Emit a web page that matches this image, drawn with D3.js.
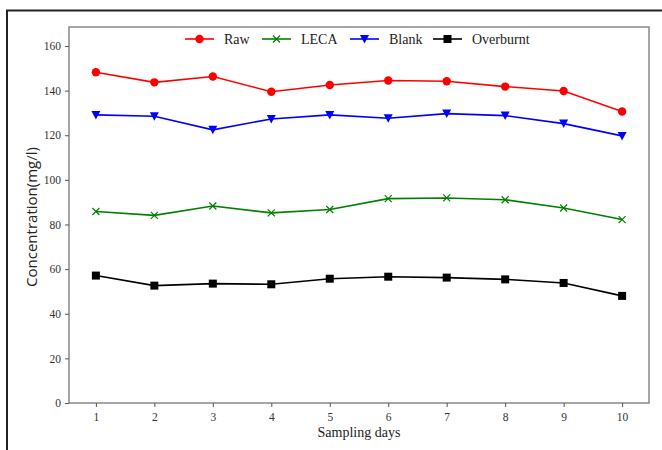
<!DOCTYPE html>
<html><head><meta charset="utf-8">
<script src="https://cdn.jsdelivr.net/npm/d3@7"></script>
<style>body{margin:0;background:#fff}svg{display:block}</style>
</head><body>
<script>
const days = [1,2,3,4,5,6,7,8,9,10];
const raw = [148.2,143.7,146.3,139.5,142.5,144.5,144.2,141.8,139.8,130.6];
const leca = [85.8,84.1,88.3,85.2,86.7,91.6,91.9,91.1,87.4,82.2];
const blank = [129.1,128.5,122.4,127.3,129.1,127.6,129.7,128.8,125.2,119.7];
const overburnt = [57.1,52.6,53.5,53.2,55.7,56.6,56.2,55.4,53.8,48.0];
const yTicks = [0,20,40,60,80,100,120,140,160];
const seriesNames = ["Raw","LECA","Blank","Overburnt"];
const seriesColors = ["#ff0000","#008000","#0000ff","#000000"];
const seriesMarkers = ["circle","x","triangle","square"];

const W=662,H=450;
const m={l:69,r:649,t:27,b:403};
const svg=d3.select("body").append("svg").attr("width",W).attr("height",H);
const x=d3.scaleLinear().domain([0.54,10.46]).range([m.l,m.r]);
const y=d3.scaleLinear().domain([0,168.5]).range([m.b,m.t]);

// outer frame (top and left visible)
svg.append("path").attr("d",`M7,${H+5} L7,10.5 L${W+5},10.5`).attr("fill","none").attr("stroke","#222").attr("stroke-width",2);

// plot frame
svg.append("rect").attr("x",m.l).attr("y",m.t).attr("width",m.r-m.l).attr("height",m.b-m.t)
  .attr("fill","none").attr("stroke","#888").attr("stroke-width",1.5);

const xAxis=svg.append("g").attr("transform",`translate(0,${m.b})`)
  .call(d3.axisBottom(x).tickValues(days).tickSize(4).tickPadding(6).tickFormat(d3.format("d")));
const yAxis=svg.append("g").attr("transform",`translate(${m.l},0)`)
  .call(d3.axisLeft(y).tickValues(yTicks).tickSize(4).tickPadding(4));
[xAxis,yAxis].forEach(a=>{
  a.select(".domain").remove();
  a.selectAll(".tick line").attr("stroke","#555");
  a.selectAll("text").attr("font-family","'Liberation Serif',serif").attr("font-size",11.5).attr("fill","#333");
});

svg.append("text").attr("x",(m.l+m.r)/2).attr("y",437).attr("text-anchor","middle")
  .attr("font-family","'Liberation Serif',serif").attr("font-size",14).attr("fill","#222").text("Sampling days");
svg.append("text").attr("transform",`translate(37,${(m.t+m.b)/2 + 2}) rotate(-90)`).attr("text-anchor","middle")
  .attr("font-family","'Open Sans',sans-serif").attr("font-size",15).attr("fill","#222").text("Concentration(mg/l)");

function marker(g,type,cx,cy,color){
  if(type==="circle") g.append("circle").attr("cx",cx).attr("cy",cy).attr("r",4.2).attr("fill",color);
  else if(type==="square") g.append("rect").attr("x",cx-4).attr("y",cy-4).attr("width",8).attr("height",8).attr("fill",color);
  else if(type==="triangle") g.append("path").attr("d",`M${cx-4.5},${cy-4} L${cx+4.5},${cy-4} L${cx},${cy+4.5}Z`).attr("fill",color);
  else if(type==="x") g.append("path").attr("d",`M${cx-3.5},${cy-3.5}L${cx+3.5},${cy+3.5}M${cx-3.5},${cy+3.5}L${cx+3.5},${cy-3.5}`).attr("stroke",color).attr("stroke-width",1.2);
}

const allData=[raw,leca,blank,overburnt];
const line=d3.line().x((d,i)=>x(days[i])).y(d=>y(d));
allData.forEach((vals,k)=>{
  const g=svg.append("g");
  g.append("path").attr("d",line(vals)).attr("fill","none").attr("stroke",seriesColors[k]).attr("stroke-width",1.6);
  vals.forEach((v,i)=>marker(g,seriesMarkers[k],x(days[i]),y(v),seriesColors[k]));
});

// legend
const legX=[185,262,350,433];
const ly=39;
seriesNames.forEach((n,k)=>{
  const g=svg.append("g");
  g.append("line").attr("x1",legX[k]).attr("x2",legX[k]+29).attr("y1",ly).attr("y2",ly).attr("stroke",seriesColors[k]).attr("stroke-width",1.6);
  marker(g,seriesMarkers[k],legX[k]+14.5,ly,seriesColors[k]);
  g.append("text").attr("x",legX[k]+39).attr("y",ly+5).attr("font-family","'Liberation Serif',serif").attr("font-size",14).attr("fill","#222").text(n);
});
</script>
</body></html>
